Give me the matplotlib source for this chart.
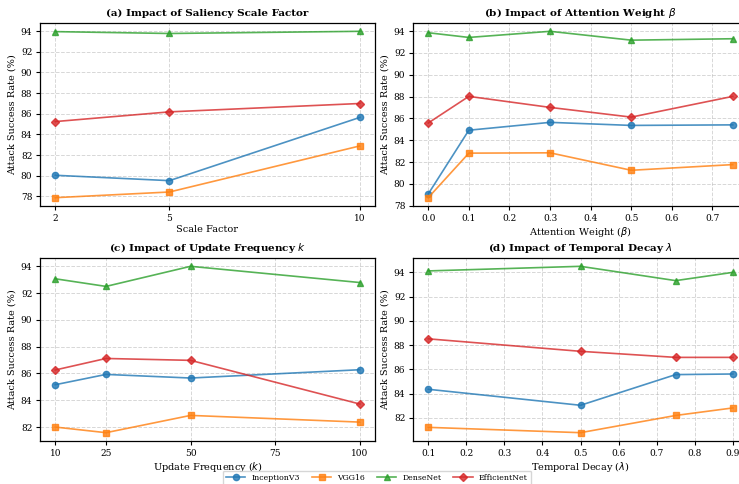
import numpy as np
import matplotlib
matplotlib.use("Agg")
import matplotlib.pyplot as plt

plt.rcParams['font.family'] = 'DejaVu Serif'

models = ["InceptionV3", "VGG16", "DenseNet", "EfficientNet"]
colors = ["tab:blue", "tab:orange", "tab:green", "tab:red"]
markers = ["o", "s", "^", "D"]

# (a) saliency scale factor
scale_x = [2, 5, 10]
scale_vals = {
    "InceptionV3": [80.04, 79.52, 85.64],
    "VGG16": [77.87, 78.42, 82.88],
    "DenseNet": [93.95, 93.77, 93.98],
    "EfficientNet": [85.24, 86.18, 86.99],
}

# (b) attention weight beta
beta_x = [0.0, 0.1, 0.3, 0.5, 0.75]
beta_vals = {
    "InceptionV3": [79.08, 84.92, 85.64, 85.36, 85.41],
    "VGG16": [78.74, 82.82, 82.85, 81.25, 81.77],
    "DenseNet": [93.85, 93.42, 93.98, 93.17, 93.3],
    "EfficientNet": [85.58, 88.02, 87.01, 86.12, 88.02],
}

# (c) update frequency k
freq_x = [10, 25, 50, 100]
freq_vals = {
    "InceptionV3": [85.16, 85.93, 85.66, 86.28],
    "VGG16": [82.0, 81.58, 82.87, 82.37],
    "DenseNet": [93.07, 92.5, 94.0, 92.79],
    "EfficientNet": [86.26, 87.12, 86.98, 83.72],
}

# (d) temporal decay lambda
decay_x = [0.1, 0.5, 0.75, 0.9]
decay_vals = {
    "InceptionV3": [84.36, 83.04, 85.57, 85.62],
    "VGG16": [81.22, 80.78, 82.2, 82.82],
    "DenseNet": [94.12, 94.5, 93.32, 94.0],
    "EfficientNet": [88.52, 87.49, 86.99, 86.99],
}

fig = plt.figure(figsize=(7.39, 4.84), dpi=100)
W, H = 739, 484
aw, ah = 335 / W, 183 / H
ax_a = fig.add_axes([40 / W, (H - 206) / H, aw, ah])
ax_b = fig.add_axes([413 / W, (H - 206) / H, aw, ah])
ax_c = fig.add_axes([40 / W, (H - 441) / H, aw, ah])
ax_d = fig.add_axes([413 / W, (H - 441) / H, aw, ah])

panels = [
    (ax_a, scale_x, scale_vals, "(a) Impact of Saliency Scale Factor", "Scale Factor", scale_x, np.arange(78, 95, 2)),
    (ax_b, beta_x, beta_vals, r"(b) Impact of Attention Weight $\beta$", r"Attention Weight ($\beta$)", np.arange(0, 0.71, 0.1), np.arange(78, 95, 2)),
    (ax_c, freq_x, freq_vals, r"(c) Impact of Update Frequency $k$", r"Update Frequency ($k$)", [10, 25, 50, 75, 100], np.arange(82, 95, 2)),
    (ax_d, decay_x, decay_vals, r"(d) Impact of Temporal Decay $\lambda$", r"Temporal Decay ($\lambda$)", np.arange(0.1, 0.91, 0.1), np.arange(82, 95, 2)),
]

for ax, xs, vals, title, xlabel, xt, yt in panels:
    for m, c, mk in zip(models, colors, markers):
        ax.plot(xs, vals[m], color=c, marker=mk, markersize=4.5, linewidth=1.2, alpha=0.8, label=m)
    ax.set_title(title, fontsize=7.5, fontweight="bold", pad=5)
    ax.set_xlabel(xlabel, fontsize=7, labelpad=1.5)
    ax.set_ylabel("Attack Success Rate (%)", fontsize=7, labelpad=3)
    ax.set_xticks(xt)
    if ax is ax_b or ax is ax_d:
        ax.set_xticklabels([f"{v:.1f}" for v in xt])
    ax.set_yticks(yt)
    ax.tick_params(labelsize=6.5, length=3, width=0.8, pad=2.5)
    ax.grid(True, linestyle="--", alpha=0.5, linewidth=0.7)
    for s in ax.spines.values():
        s.set_linewidth(0.9)

handles, labels = ax_a.get_legend_handles_labels()
fig.legend(handles, labels, loc="upper center", bbox_to_anchor=(377 / W, 1 - 467 / H), ncol=4,
           fontsize=5.6, frameon=True, columnspacing=1.5, handlelength=2.5)

fig.savefig("out.png", dpi=100)
